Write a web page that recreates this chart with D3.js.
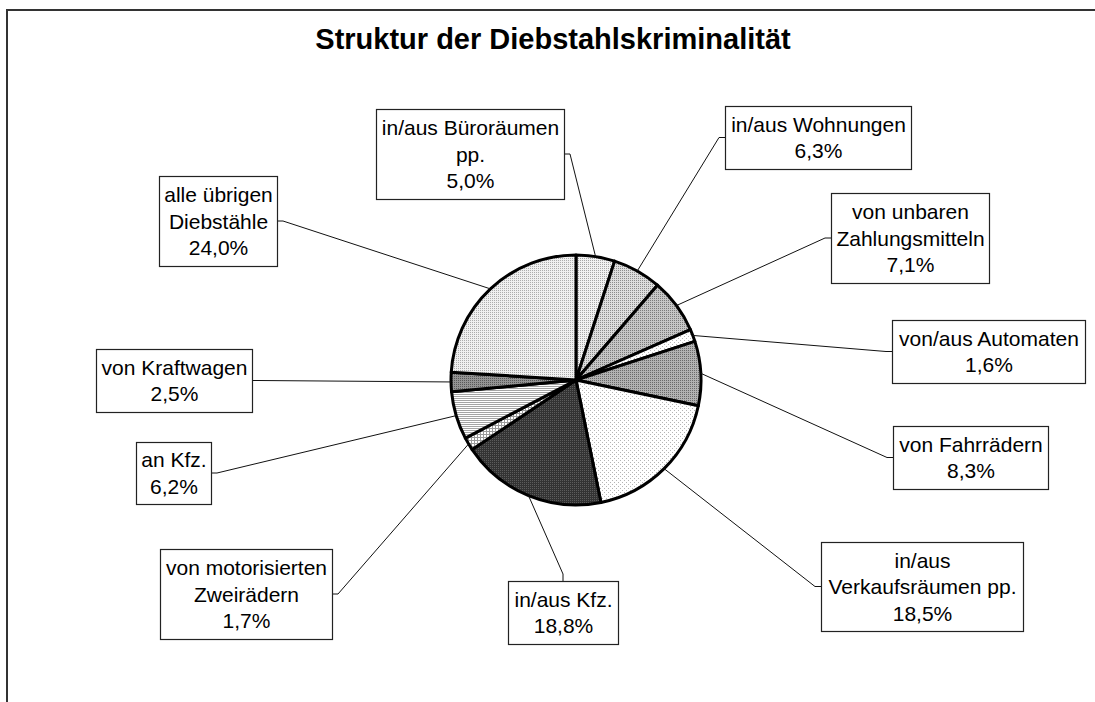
<!DOCTYPE html>
<html>
<head>
<meta charset="utf-8">
<script src="https://cdn.jsdelivr.net/npm/d3@7"></script>
<style>
  html, body { margin: 0; padding: 0; background: #fff; }
  svg { display: block; }
  text { font-family: "Liberation Sans", Arial, sans-serif; fill: #000; }
</style>
</head>
<body>
<svg id="chart" width="1095" height="702"></svg>
<script>
'use strict';

// categories, clockwise from 12 o'clock
var categories = [
  'in/aus Büroräumen|pp.',
  'in/aus Wohnungen',
  'von unbaren|Zahlungsmitteln',
  'von/aus Automaten',
  'von Fahrrädern',
  'in/aus|Verkaufsräumen pp.',
  'in/aus Kfz.',
  'von motorisierten|Zweirädern',
  'an Kfz.',
  'von Kraftwagen',
  'alle übrigen|Diebstähle'
];
var values = [5.0, 6.3, 7.1, 1.6, 8.3, 18.5, 18.8, 1.7, 6.2, 2.5, 24.0];

var title = 'Struktur der Diebstahlskriminalität';

// label box layout (same order as categories)
var labelLayout = [
  { x: 376, y: 109, w: 188, h: 90, side: 'right' },
  { x: 725, y: 106, w: 186, h: 63, side: 'left' },
  { x: 831, y: 193, w: 158, h: 90, side: 'left' },
  { x: 892, y: 320, w: 193, h: 63, side: 'left' },
  { x: 893, y: 426, w: 155, h: 63, side: 'left' },
  { x: 821, y: 542, w: 202, h: 89, side: 'left' },
  { x: 508, y: 581, w: 110, h: 63, side: 'top' },
  { x: 160, y: 549, w: 172, h: 90, side: 'right' },
  { x: 136, y: 442, w: 75, h: 62, side: 'right' },
  { x: 96, y: 349, w: 156, h: 63, side: 'right' },
  { x: 159, y: 176, w: 118, h: 90, side: 'right' }
];

// pattern fills, roughly like the printed hatches
var fills = [
  { bg: '#f2f2f2', fg: '#a6a6a6', type: 'dots' },
  { bg: '#dedede', fg: '#8c8c8c', type: 'dots' },
  { bg: '#c6c6c6', fg: '#7a7a7a', type: 'dots' },
  { bg: '#ffffff', fg: '#b8b8b8', type: 'sparse' },
  { bg: '#b2b2b2', fg: '#6a6a6a', type: 'dots' },
  { bg: '#ffffff', fg: '#b4b4b4', type: 'sparse' },
  { bg: '#333333', fg: '#5c5c5c', type: 'dots' },
  { bg: '#ffffff', fg: '#9a9a9a', type: 'grid' },
  { bg: '#ffffff', fg: '#a4a4a4', type: 'hstripe' },
  { bg: '#949494', fg: '#585858', type: 'dots' },
  { bg: '#f0f0f0', fg: '#acacac', type: 'dots' }
];

var svg = d3.select('#chart');
var cx = 576, cy = 380, radius = 125;

var fmt = function (v) { return d3.format('.1f')(v).replace('.', ',') + '%'; };

// patterns
var defs = svg.append('defs');
fills.forEach(function (f, i) {
  var size = f.type === 'sparse' ? 4 : (f.type === 'grid' ? 3 : 2);
  var p = defs.append('pattern')
    .attr('id', 'pat' + i)
    .attr('patternUnits', 'userSpaceOnUse')
    .attr('width', size)
    .attr('height', size);
  p.append('rect').attr('width', size).attr('height', size).attr('fill', f.bg);
  if (f.type === 'dots' || f.type === 'sparse') {
    p.append('rect').attr('width', 1).attr('height', 1).attr('fill', f.fg);
    if (f.type === 'sparse') {
      p.append('rect').attr('x', 2).attr('y', 2).attr('width', 1).attr('height', 1).attr('fill', f.fg);
    }
  } else if (f.type === 'hstripe') {
    p.append('rect').attr('width', size).attr('height', 1).attr('fill', f.fg);
  } else if (f.type === 'grid') {
    p.append('rect').attr('width', size).attr('height', 1).attr('fill', f.fg);
    p.append('rect').attr('width', 1).attr('height', size).attr('fill', f.fg);
  }
});

// frame (only top and left edges are visible)
svg.append('path')
  .attr('d', 'M7,702 L7,10 L1096,10')
  .attr('fill', 'none')
  .attr('stroke', '#333')
  .attr('stroke-width', 2);

svg.append('text')
  .attr('x', 553)
  .attr('y', 49)
  .attr('text-anchor', 'middle')
  .attr('font-weight', 'bold')
  .attr('font-size', '29px')
  .text(title);

var pie = d3.pie().sort(null).startAngle(0).endAngle(2 * Math.PI);
var arcs = pie(values);

var arc = d3.arc().innerRadius(0).outerRadius(radius);
var edge = d3.arc().innerRadius(radius).outerRadius(radius);

var g = svg.append('g').attr('transform', 'translate(' + cx + ',' + cy + ')');

// leader lines
var leaders = svg.append('g').attr('class', 'leaders');
arcs.forEach(function (d, i) {
  var b = labelLayout[i];
  var p = edge.centroid(d);
  var start = [cx + p[0], cy + p[1]];
  var a, elbow;
  if (b.side === 'left') {
    a = [b.x, b.y + b.h / 2];
    elbow = [a[0] - 6, a[1]];
  } else if (b.side === 'right') {
    a = [b.x + b.w, b.y + b.h / 2];
    elbow = [a[0] + 6, a[1]];
  } else {
    a = [b.x + b.w / 2, b.y];
    elbow = [a[0], a[1] - 7];
  }
  leaders.append('path')
    .attr('d', d3.line()([start, elbow, a]))
    .attr('fill', 'none')
    .attr('stroke', '#111')
    .attr('stroke-width', 1);
});

g.selectAll('path.slice')
  .data(arcs)
  .enter().append('path')
  .attr('class', 'slice')
  .attr('d', arc)
  .attr('fill', function (d, i) { return 'url(#pat' + i + ')'; })
  .attr('stroke', '#000')
  .attr('stroke-width', 3)
  .attr('stroke-linejoin', 'round');

// label boxes
var lineH = 26.5;
var boxes = svg.append('g').attr('class', 'labels');
categories.forEach(function (c, i) {
  var b = labelLayout[i];
  var lines = c.split('|').concat([fmt(values[i])]);
  var bg = boxes.append('g');
  bg.append('rect')
    .attr('x', b.x + 0.5)
    .attr('y', b.y + 0.5)
    .attr('width', b.w)
    .attr('height', b.h)
    .attr('fill', '#fff')
    .attr('stroke', '#222')
    .attr('stroke-width', 1.2);
  var top = b.y + (b.h - lines.length * lineH) / 2;
  lines.forEach(function (t, k) {
    bg.append('text')
      .attr('x', b.x + b.w / 2 + 0.5)
      .attr('y', top + lineH * k + lineH / 2 + 7.5)
      .attr('text-anchor', 'middle')
      .attr('font-size', '21px')
      .text(t);
  });
});
</script>
</body>
</html>
